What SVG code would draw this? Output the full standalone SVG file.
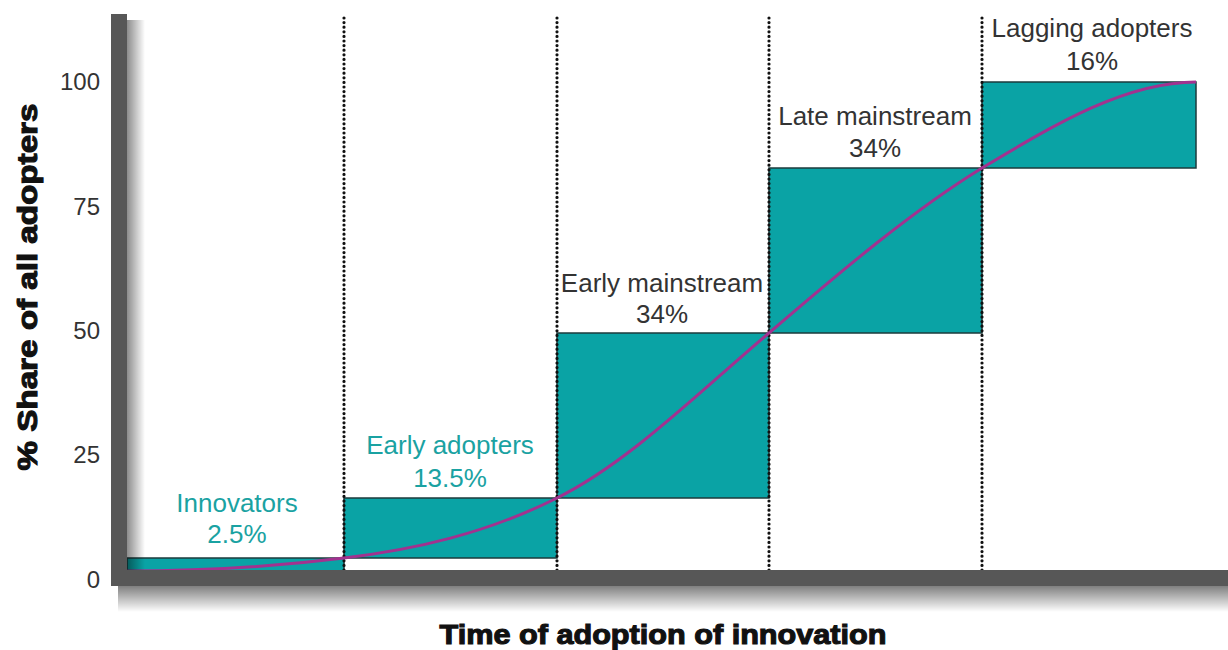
<svg xmlns="http://www.w3.org/2000/svg" width="1228" height="650" viewBox="0 0 1228 650">
<defs>
<linearGradient id="shV" x1="0" y1="0" x2="1" y2="0">
<stop offset="0" stop-color="#000" stop-opacity="0.45"/>
<stop offset="1" stop-color="#000" stop-opacity="0"/>
</linearGradient>
<linearGradient id="shH" x1="0" y1="0" x2="0" y2="1">
<stop offset="0" stop-color="#000" stop-opacity="0.5"/>
<stop offset="1" stop-color="#000" stop-opacity="0"/>
</linearGradient>
<style>
.box{fill:#0aa3a5;stroke:#1d3b3c;stroke-width:1.5}
.dot{stroke:#111;stroke-width:3.2;stroke-dasharray:0 4.6;stroke-linecap:round;fill:none}
.lbl{font-family:"Liberation Sans",Arial,sans-serif;font-size:26px;text-anchor:middle}
.teal{fill:#1aa2a2}
.dark{fill:#333}
.tick{font-family:"Liberation Sans",Arial,sans-serif;font-size:24px;fill:#333;text-anchor:end}
.ttl{font-family:"Liberation Sans",Arial,sans-serif;font-weight:bold;font-size:27px;fill:#111;stroke:#111;stroke-width:1.1;text-anchor:middle}
.axis{fill:#575757}
.curve{fill:none;stroke:#a2328f;stroke-width:3}
</style>
</defs>
<rect width="1228" height="650" fill="#fff"/>

<g id="innovators">
<rect class="box" x="127" y="558" width="217" height="13"/>
<text class="lbl teal" x="237" y="512">Innovators</text>
<text class="lbl teal" x="237" y="543">2.5%</text>
</g>
<g id="early-adopters">
<rect class="box" x="344" y="498" width="213" height="60"/>
<text class="lbl teal" x="450" y="454">Early adopters</text>
<text class="lbl teal" x="450" y="487">13.5%</text>
</g>
<g id="early-mainstream">
<rect class="box" x="557" y="333" width="212" height="165"/>
<text class="lbl dark" x="662" y="292">Early mainstream</text>
<text class="lbl dark" x="662" y="323">34%</text>
</g>
<g id="late-mainstream">
<rect class="box" x="769" y="168" width="213" height="165"/>
<text class="lbl dark" x="875" y="125">Late mainstream</text>
<text class="lbl dark" x="875" y="157">34%</text>
</g>
<g id="lagging-adopters">
<rect class="box" x="982" y="82" width="214" height="86"/>
<text class="lbl dark" x="1092" y="37">Lagging adopters</text>
<text class="lbl dark" x="1092" y="70">16%</text>
</g>

<g id="connectors">
<line class="dot" x1="344" y1="18" x2="344" y2="570"/>
<line class="dot" x1="557" y1="18" x2="557" y2="570"/>
<line class="dot" x1="769" y1="18" x2="769" y2="570"/>
<line class="dot" x1="982" y1="18" x2="982" y2="570"/>
<path class="curve" d="M127,571 C199,571 272,567 344,558 C415,549.5 486,533.5 557,498 C628,463 698,393 769,333 C840,272 912,211 982,168 C1054,125 1125,82 1196,82"/>
</g>

<g id="axes">
<rect x="127" y="20" width="18" height="566" fill="url(#shV)"/>
<rect x="118" y="586" width="1110" height="26" fill="url(#shH)"/>
<rect class="axis" x="111" y="14" width="16" height="572"/>
<rect class="axis" x="111" y="570" width="1117" height="16"/>
<text class="tick" x="100" y="90">100</text>
<text class="tick" x="100" y="215">75</text>
<text class="tick" x="100" y="339">50</text>
<text class="tick" x="100" y="463">25</text>
<text class="tick" x="100" y="588">0</text>
<text class="ttl" x="663" y="644" textLength="447" lengthAdjust="spacingAndGlyphs">Time of adoption of innovation</text>
<text class="ttl" transform="translate(37,287) rotate(-90)" x="0" y="0" textLength="367" lengthAdjust="spacingAndGlyphs">% Share of all adopters</text>
</g>
</svg>
